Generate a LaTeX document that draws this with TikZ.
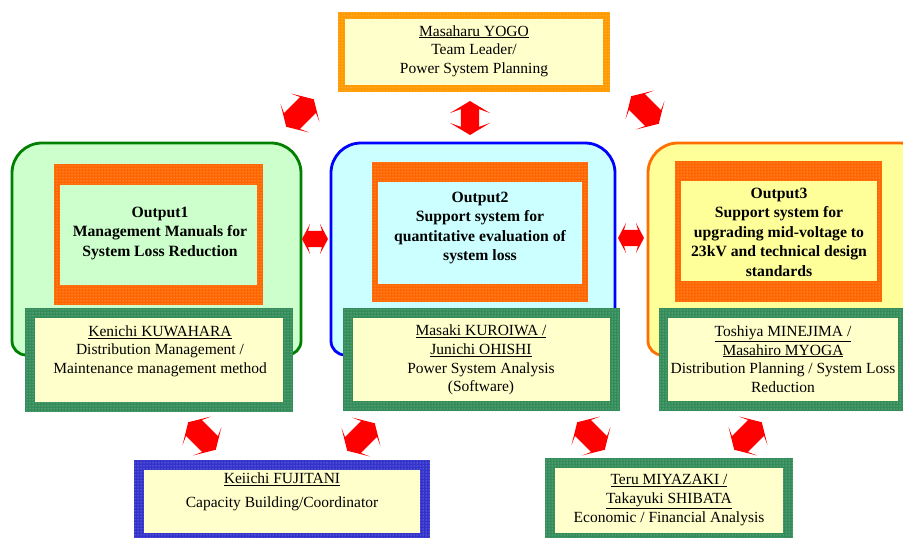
\documentclass[tikz,border=0pt]{standalone}
\usepackage{fontspec}
\setmainfont{Liberation Serif}
\usetikzlibrary{positioning, shapes.arrows, patterns}

\definecolor{greenline}{RGB}{0,128,0}
\definecolor{greenfill}{RGB}{204,255,204}
\definecolor{blueline}{RGB}{0,0,255}
\definecolor{bluefill}{RGB}{204,255,255}
\definecolor{orangeline}{RGB}{255,110,0}
\definecolor{yellowfill}{RGB}{255,255,153}
\definecolor{paleyellow}{RGB}{255,255,204}
\definecolor{outframe}{RGB}{255,102,0}
\definecolor{leadframe}{RGB}{255,153,0}
\definecolor{staffframe}{RGB}{51,140,90}
\definecolor{coordframe}{RGB}{51,51,204}

\tikzset{
    % dotted frame round a box
    framebox/.style={
           rectangle,
           inner sep=0pt,
           preaction={fill=#1},
           pattern=dots,
           pattern color=white!65!#1},
    % plain fill inside a frame
    fillbox/.style={
           rectangle,
           inner sep=0pt,
           fill=#1},
    % names and duties
    stafftext/.style={
           align=center,
           inner sep=0pt,
           font=\fontsize{15.5}{18.6}\selectfont},
    % outputs
    outtext/.style={
           align=center,
           inner sep=0pt,
           font=\fontsize{15.7}{19.5}\selectfont\bfseries},
    % rounded group round an output
    groupbox/.style={
           line width=2.8pt},
    % red double arrows
    redarrow/.style={
           shape=double arrow,
           fill=red,
           inner xsep=0pt,
           double arrow tip angle=118,
           double arrow head extend=9pt,
           double arrow head indent=4pt,
           inner ysep=11pt,
           minimum height=39pt},
    smallarrow/.style={
           redarrow,
           double arrow tip angle=124,
           double arrow head extend=7pt,
           double arrow head indent=2pt,
           inner ysep=8pt,
           minimum height=26pt}
}

\begin{document}
\begin{tikzpicture}[x=1pt, y=-1pt]
  \useasboundingbox (0,0) rectangle (903,538);
  \clip (0,0) rectangle (903,538);

  % groups
  \draw[groupbox, draw=greenline, fill=greenfill] (12,250)
     {[rounded corners=30pt] -- (12,143) -- (301,143) -- (301,250)}
     {[rounded corners=14pt] -- (301,355) -- (12,355) -- (12,250)} -- cycle;
  \draw[groupbox, draw=blueline, fill=bluefill] (331,250)
     {[rounded corners=30pt] -- (331,143) -- (615,143) -- (615,250)}
     {[rounded corners=14pt] -- (615,355) -- (331,355) -- (331,250)} -- cycle;
  \draw[groupbox, draw=orangeline, fill=yellowfill] (648,250)
     {[rounded corners=30pt] -- (648,143) -- (930,143) -- (930,250)}
     {[rounded corners=14pt] -- (930,355) -- (648,355) -- (648,250)} -- cycle;

  % outputs
  \node[framebox=outframe, minimum width=209pt, minimum height=141pt] (out1 frame) at (158.5,234.5) {};
  \node[fillbox=greenfill, minimum width=197pt, minimum height=100pt] (out1 fill) at (158.5,235) {};
  \node[outtext] (out1) at (160,233) {Output1\\Management Manuals for\\System Loss Reduction};

  \node[framebox=outframe, minimum width=216pt, minimum height=140pt] (out2 frame) at (480,232) {};
  \node[fillbox=bluefill, minimum width=204pt, minimum height=102pt] (out2 fill) at (480,233) {};
  \node[outtext] (out2) at (480,228) {Output2\\Support system for\\quantitative evaluation of\\system loss};

  \node[framebox=outframe, minimum width=207pt, minimum height=141pt] (out3 frame) at (778.5,231.5) {};
  \node[fillbox=yellowfill, minimum width=196pt, minimum height=100pt] (out3 fill) at (779,231) {};
  \node[outtext] (out3) at (779,232) {Output3\\Support system for\\upgrading mid-voltage to\\23kV and technical design\\standards};

  % team leader
  \node[framebox=leadframe, minimum width=272pt, minimum height=80pt] (yogo frame) at (474,52) {};
  \node[fillbox=paleyellow, minimum width=258pt, minimum height=66pt] (yogo fill) at (474,52) {};
  \node[stafftext] (yogo) at (474,51) {\underline{Masaharu YOGO}\\Team Leader/\\Power System Planning};

  % members
  \node[framebox=staffframe, minimum width=268pt, minimum height=104pt] (kuwahara frame) at (159,360) {};
  \node[fillbox=paleyellow, minimum width=248pt, minimum height=84pt] (kuwahara fill) at (159,360) {};
  \node[stafftext] (kuwahara) at (160,351) {\underline{Kenichi KUWAHARA}\\Distribution Management /\\Maintenance management method};

  \node[framebox=staffframe, minimum width=277pt, minimum height=103pt] (kuroiwa frame) at (481.5,359.5) {};
  \node[fillbox=paleyellow, minimum width=257pt, minimum height=83pt] (kuroiwa fill) at (481.5,359.5) {};
  \node[stafftext] (kuroiwa) at (481,360) {\underline{Masaki KUROIWA /}\\\underline{Junichi OHISHI}\\Power System Analysis\\(Software)};

  \node[framebox=staffframe, minimum width=250pt, minimum height=103pt] (minejima frame) at (784,359.5) {};
  \node[fillbox=paleyellow, minimum width=230pt, minimum height=83pt] (minejima fill) at (783,359.5) {};
  \node[stafftext] (minejima) at (783,359) {\underline{Toshiya MINEJIMA /}\\\underline{Masahiro MYOGA}\\Distribution Planning / System Loss\\Reduction};

  \node[framebox=coordframe, minimum width=296pt, minimum height=83pt] (fujitani frame) at (282,501.5) {};
  \node[fillbox=paleyellow, minimum width=276pt, minimum height=63pt] (fujitani fill) at (282,501.5) {};
  \node[stafftext] (fujitani) at (282,492) {\underline{Keiichi FUJITANI}\\[5pt]Capacity Building/Coordinator};

  \node[framebox=staffframe, minimum width=248pt, minimum height=85pt] (miyazaki frame) at (669,500.5) {};
  \node[fillbox=paleyellow, minimum width=228pt, minimum height=65pt] (miyazaki fill) at (669,500.5) {};
  \node[stafftext] (miyazaki) at (669,500) {\underline{Teru MIYAZAKI /}\\\underline{Takayuki SHIBATA}\\Economic / Financial Analysis};

  % arrows
  \node[redarrow, rotate=45] (a1) at (300,113) {};
  \node[redarrow, rotate=90, double arrow head extend=11pt, inner ysep=9pt, minimum height=34pt] (a2) at (470,118) {};
  \node[redarrow, rotate=-45] (a3) at (645,110) {};
  \node[smallarrow] (a4) at (315,239) {};
  \node[smallarrow] (a5) at (631,238) {};
  \node[redarrow, rotate=-45] (a6) at (202,436) {};
  \node[redarrow, rotate=45] (a7) at (361,437) {};
  \node[redarrow, rotate=-45] (a8) at (591,436) {};
  \node[redarrow, rotate=45] (a9) at (748,436) {};
\end{tikzpicture}
\end{document}
